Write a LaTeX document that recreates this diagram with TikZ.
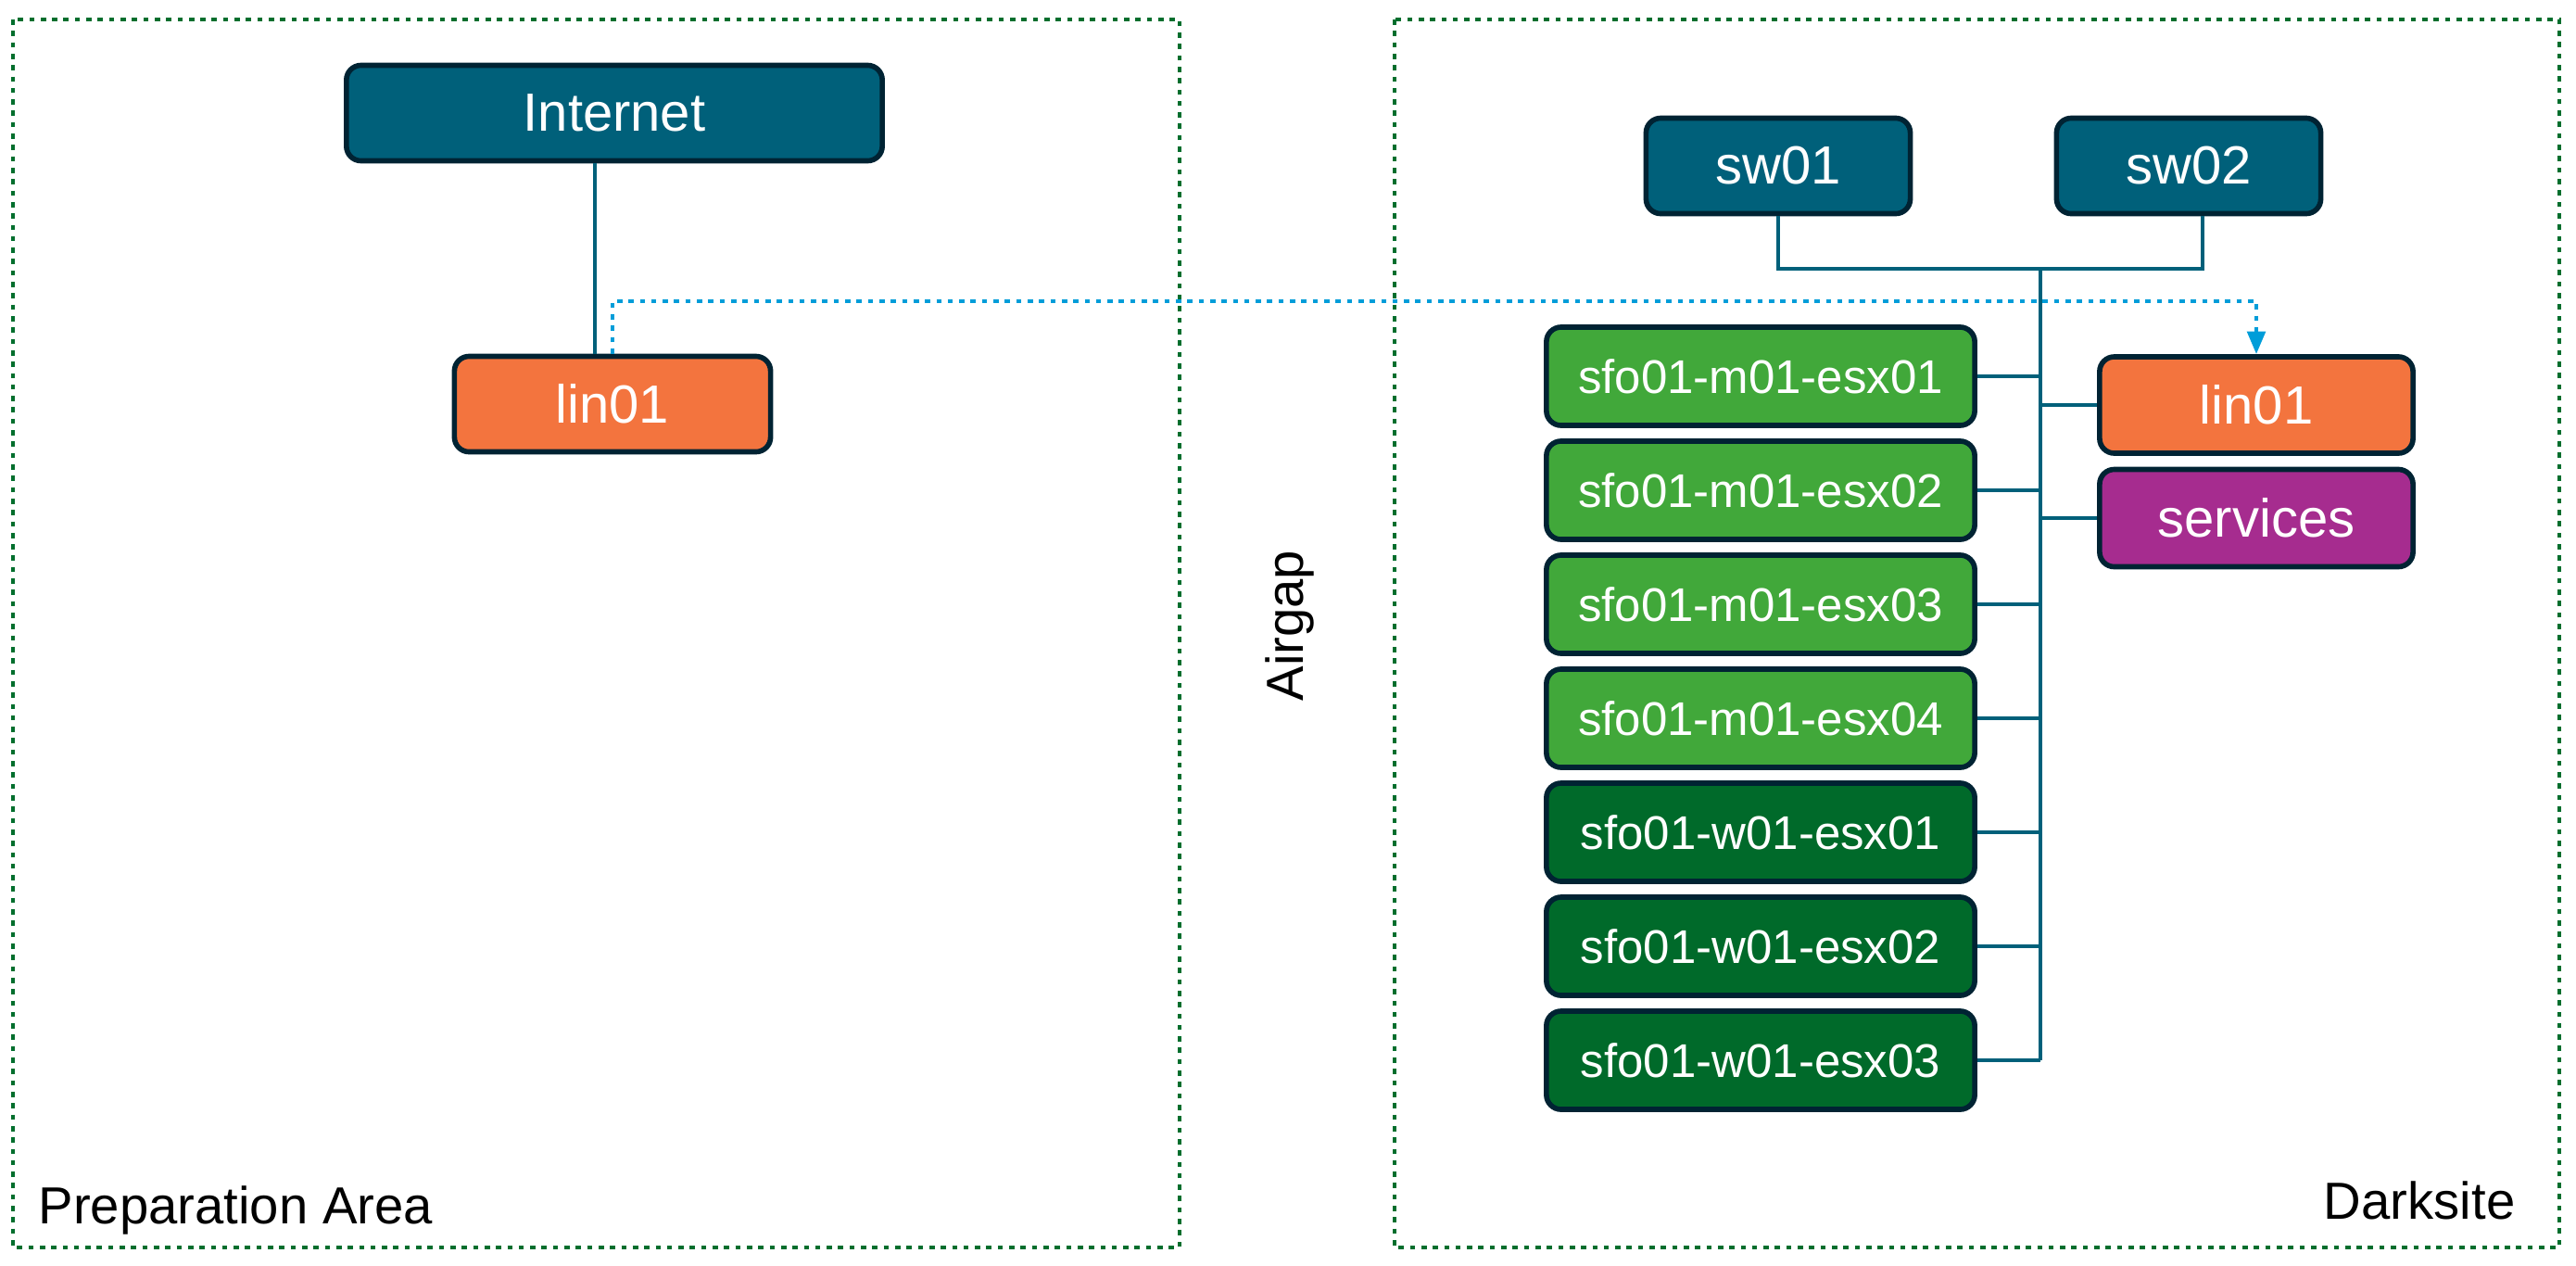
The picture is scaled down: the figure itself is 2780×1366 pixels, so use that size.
\documentclass[tikz,border=0pt]{standalone}
\usepackage{fontspec}
\setmainfont{Liberation Sans}
\usetikzlibrary{arrows.meta}
\definecolor{tealbox}{RGB}{0,96,122}
\definecolor{navyline}{RGB}{0,35,51}
\definecolor{orangebox}{RGB}{243,116,62}
\definecolor{lgreen}{RGB}{65,168,58}
\definecolor{dgreen}{RGB}{0,106,42}
\definecolor{purplebox}{RGB}{166,44,143}
\definecolor{dotblue}{RGB}{0,157,217}
\definecolor{framegreen}{RGB}{0,110,45}
\tikzset{
  boxbase/.style={draw=navyline, line width=1.6pt, rounded corners=4.5pt, text=white, inner sep=0pt, align=center},
  bigbox/.style={boxbase, font=\fontsize{16.5}{19}\selectfont},
  esxbox/.style={boxbase, font=\fontsize{14.5}{17}\selectfont, minimum width=4.62cm, minimum height=1.06cm},
  frame/.style={draw=framegreen, line width=1.4pt, dash pattern=on 1.6pt off 1.9pt},
  link/.style={draw=tealbox, line width=1.3pt},
  dotlink/.style={draw=dotblue, line width=1.3pt, dash pattern=on 1.6pt off 1.9pt},
  lbl/.style={font=\fontsize{16}{19}\selectfont, text=black, inner sep=0pt}
}
\begin{document}
\begin{tikzpicture}[x=0.01cm, y=-0.01cm]
\useasboundingbox (0,0) rectangle (2780,1366);
% frames
\draw[frame] (14,21) rectangle (1273,1346);
\draw[frame] (1505,21) rectangle (2762,1346);
% left side
\node[bigbox, fill=tealbox, minimum width=5.78cm, minimum height=1.03cm] (internet) at (663,122) {Internet};
\node[bigbox, fill=orangebox, minimum width=3.41cm, minimum height=1.03cm] (lina) at (661,436) {lin01};
% right side
\node[bigbox, fill=tealbox, minimum width=2.85cm, minimum height=1.03cm] (sw1) at (1919,179) {sw01};
\node[bigbox, fill=tealbox, minimum width=2.85cm, minimum height=1.03cm] (sw2) at (2362,179) {sw02};
\node[esxbox, fill=lgreen] (m1) at (1900,406) {sfo01-m01-esx01};
\node[esxbox, fill=lgreen] (m2) at (1900,529) {sfo01-m01-esx02};
\node[esxbox, fill=lgreen] (m3) at (1900,652) {sfo01-m01-esx03};
\node[esxbox, fill=lgreen] (m4) at (1900,775) {sfo01-m01-esx04};
\node[esxbox, fill=dgreen] (w1) at (1900,898) {sfo01-w01-esx01};
\node[esxbox, fill=dgreen] (w2) at (1900,1021) {sfo01-w01-esx02};
\node[esxbox, fill=dgreen] (w3) at (1900,1144) {sfo01-w01-esx03};
\node[bigbox, fill=orangebox, minimum width=3.38cm, minimum height=1.04cm] (linb) at (2435,437) {lin01};
\node[bigbox, fill=purplebox, minimum width=3.38cm, minimum height=1.05cm] (svc) at (2435,559) {services};
% labels
\node[lbl, anchor=base west] (prep) at (41,1320) {Preparation Area};
\node[lbl, anchor=base east] (dark) at (2715,1315) {Darksite};
\node[lbl, rotate=90] (airgap) at (1392,675) {Airgap};
% connectors
\draw[link] ([xshift=-0.21cm]internet.south) -- ([xshift=-0.21cm]internet.south |- lina.north);
\coordinate (bus) at (2202,290);
\coordinate (dy) at (0,325);
\draw[link] (sw1.south) -- (sw1.south |- bus) -- ([xshift=0.15cm]sw2.south |- bus) -- ([xshift=0.15cm]sw2.south);
\draw[link] (bus) -- (bus |- w3.east);
\foreach \n in {m1,m2,m3,m4,w1,w2,w3}{
  \draw[link] (\n.east) -- (bus |- \n.east);
}
\draw[link] (linb.west) -- (bus |- linb.west);
\draw[link] (svc.west) -- (bus |- svc.west);
\draw[dotlink, -{Triangle[width=5.5pt,length=7pt]}] (lina.north) -- (lina.north |- dy) -- (linb.north |- dy) -- (linb.north);
\end{tikzpicture}
\end{document}
